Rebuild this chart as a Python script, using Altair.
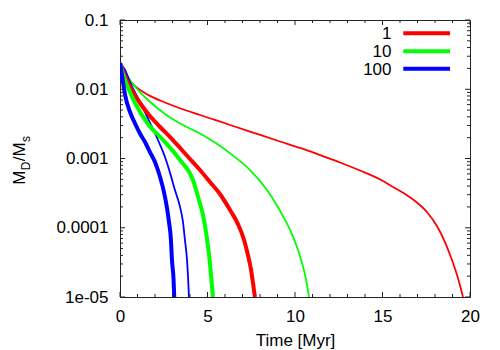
import math
import altair as alt
import pandas as pd

# ---------------- data ----------------
series_labels = ["1", "10", "100"]
series_colors = ["#ff0000", "#00ff00", "#0000ff"]

# thin curves
thin_1_t = [0, 0.17, 0.46, 0.86, 1.6, 2.57, 3.54, 4.57, 5.43, 7.43, 9.14, 10.29, 11.43, 12.57,
            13.71, 15.03, 15.6, 16.29, 16.86, 17.54, 18.11, 18.57, 18.97, 19.31, 19.6]
thin_1_v = [0.0239, 0.019, 0.0141, 0.0111, 0.0083, 0.00644, 0.00519, 0.00425, 0.0036, 0.00245,
            0.00176, 0.00142, 0.00112, 0.000876, 0.000671, 0.000473, 0.000388, 0.000307,
            0.000243, 0.000169, 0.000106, 6.22e-5, 3.42e-5, 1.88e-5, 1.0e-5]

thin_10_t = [0, 0.29, 0.57, 1.14, 1.71, 2.57, 3.43, 4.57, 5.43, 6.46, 7.43, 8.4, 8.97, 9.43,
             9.89, 10.17, 10.4, 10.63, 10.8]
thin_10_v = [0.0239, 0.0178, 0.0136, 0.0091, 0.0066, 0.0044, 0.0032, 0.0023, 0.0017, 0.0011,
             0.00068, 0.00035, 0.00021, 0.00013, 7.4e-5, 4.8e-5, 3.1e-5, 1.8e-5, 1.0e-5]

thin_100_t = [0, 0.29, 0.57, 1.14, 1.71, 2.17, 2.57, 2.86, 3.14, 3.43, 3.6, 3.71, 3.83, 3.89, 3.94]
thin_100_v = [0.0239, 0.019, 0.0127, 0.0066, 0.0033, 0.00185, 0.00105, 0.00062, 0.00035, 0.0002,
              0.000121, 6.7e-5, 3.4e-5, 1.9e-5, 1.0e-5]

# thick curves
thick_1_t = [0, 0.23, 0.57, 1.14, 1.71, 2.29, 2.86, 3.43, 4.0, 4.57, 5.14, 5.71, 6.29, 6.74,
             7.09, 7.31, 7.49, 7.6, 7.71]
thick_1_v = [0.0239, 0.0166, 0.0108, 0.00633, 0.00411, 0.00285, 0.00204, 0.00142, 0.000983,
             0.000682, 0.000458, 0.000307, 0.00018, 0.000113, 6.65e-5, 4.04e-5, 2.45e-5,
             1.59e-5, 1.0e-5]

thick_10_t = [0, 0.17, 0.4, 0.86, 1.6, 2.46, 3.43, 4.17, 4.51, 4.74, 4.94, 5.09, 5.2, 5.31]
thick_10_v = [0.0239, 0.0166, 0.0115, 0.00633, 0.00315, 0.00185, 0.000951, 0.000489, 0.000252,
              0.000153, 7.86e-5, 4.04e-5, 2.08e-5, 1.0e-5]

thick_100_t = [0, 0.11, 0.29, 0.57, 0.86, 1.14, 1.43, 1.71, 2.0, 2.29, 2.51, 2.69, 2.8, 2.91,
               2.97, 3.06, 3.1]
thick_100_v = [0.0239, 0.0161, 0.0083, 0.0047, 0.0032, 0.0023, 0.00173, 0.00124, 0.00089,
               0.00054, 0.00033, 0.00019, 0.000121, 6.7e-5, 3.4e-5, 1.8e-5, 1.0e-5]

# axes
x_major_ticks = [0, 5, 10, 15, 20]
x_minor_ticks = [v for v in range(0, 21) if v % 5 != 0]
y_major_ticks = [1e-5, 1e-4, 1e-3, 1e-2, 1e-1]
y_tick_labels = ["1e-05", "0.0001", "0.001", "0.01", "0.1"]
y_minor_ticks = [k * 10.0 ** d for d in range(-5, -1) for k in range(2, 10)]

x_title = "Time [Myr]"

# ---------------- chart ----------------
W, H = 350, 277
FONT = "Liberation Sans"
FS = 17

label_expr = ""
for val, lab in zip(y_major_ticks, y_tick_labels):
    label_expr += f"abs(log(datum.value)/LN10 - ({math.log10(val)})) < 0.01 ? '{lab}' : "
label_expr += "''"

xs = alt.Scale(domain=[0, 20], nice=False, zero=False)
ys = alt.Scale(type="log", domain=[1e-5, 0.1], nice=False)

x_axis = alt.Axis(values=x_major_ticks, format="d", title=x_title, ticks=False, tickSize=0,
                  domain=False, grid=False, labelPadding=11, labelFlush=False,
                  labelOverlap=False, labelFont=FONT, labelFontSize=FS, labelColor="black",
                  titleFont=FONT, titleFontSize=FS, titleFontWeight="normal",
                  titleColor="black", titleY=48, titleBaseline="alphabetic")
y_axis = alt.Axis(values=y_major_ticks, labelExpr=label_expr, title=None, ticks=False,
                  tickSize=0, domain=False, grid=False, labelPadding=12, labelFlush=False,
                  labelOverlap=False, labelFont=FONT, labelFontSize=FS, labelColor="black")


def X():
    return alt.X("t:Q", scale=xs, axis=x_axis)


def Y():
    return alt.Y("v:Q", scale=ys, axis=y_axis)


def line_layer(ts, vs, color, width):
    df = pd.DataFrame({"t": ts, "v": vs})
    return alt.Chart(df).mark_line(color=color, strokeWidth=width, interpolate="monotone",
                                   clip=True).encode(x=X(), y=Y())


layers = []
thin = [(thin_1_t, thin_1_v), (thin_10_t, thin_10_v), (thin_100_t, thin_100_v)]
thick = [(thick_1_t, thick_1_v), (thick_10_t, thick_10_v), (thick_100_t, thick_100_v)]
for (ts, vs), c in zip(thin, series_colors):
    layers.append(line_layer(ts, vs, c, 1.8))
for (ts, vs), c in zip(thick, series_colors):
    layers.append(line_layer(ts, vs, c, 4))

# inward ticks on all four sides
TICK_COLOR = "#222222"
for vals, length in [(x_major_ticks, 5), (x_minor_ticks, 3)]:
    df = pd.DataFrame({"t": vals})
    for y0, y1 in [(H, H - length), (0, length)]:
        layers.append(alt.Chart(df).mark_rule(color=TICK_COLOR, strokeWidth=1).encode(
            x=X(), y=alt.value(y0), y2=alt.value(y1)))
for vals, length in [(y_major_ticks, 5), (y_minor_ticks, 3)]:
    df = pd.DataFrame({"v": vals})
    for x0, x1 in [(0, length), (W, W - length)]:
        layers.append(alt.Chart(df).mark_rule(color=TICK_COLOR, strokeWidth=1).encode(
            y=Y(), x=alt.value(x0), x2=alt.value(x1)))

# legend (label left, sample right)
leg_y = [13.3, 31.3, 48.7]
for lab, c, ly in zip(series_labels, series_colors, leg_y):
    df = pd.DataFrame({"label": [lab]})
    layers.append(alt.Chart(df).mark_rule(color=c, strokeWidth=4).encode(
        x=alt.value(283.3), x2=alt.value(330), y=alt.value(ly)))
    layers.append(alt.Chart(df).mark_text(align="right", baseline="alphabetic", font=FONT,
                                          fontSize=FS, color="black").encode(
        x=alt.value(271.5), y=alt.value(ly + 6), text="label:N"))

# y-axis title M_D/M_s with subscripts (rotated)
ytitle_parts = [("M", FS, -95, 164.7), ("D", 12, -90.5, 150.3), ("/", FS, -95, 141.3),
                ("M", FS, -95, 136.4), ("s", 12, -90.5, 122.0)]
for txt, fs, px, py in ytitle_parts:
    df = pd.DataFrame({"s": [txt]})
    layers.append(alt.Chart(df).mark_text(align="left", baseline="alphabetic", angle=270,
                                          font=FONT, fontSize=fs, color="black").encode(
        x=alt.value(px), y=alt.value(py), text="s:N"))

chart = alt.layer(*layers).properties(
    width=W, height=H,
    padding={"left": 112, "top": 12, "right": 22, "bottom": 53},
    autosize=alt.AutoSizeParams(type="none"),
).configure_view(stroke="#222222", strokeWidth=1)

chart.save("out.html", embed_options={"renderer": "svg", "actions": False})
